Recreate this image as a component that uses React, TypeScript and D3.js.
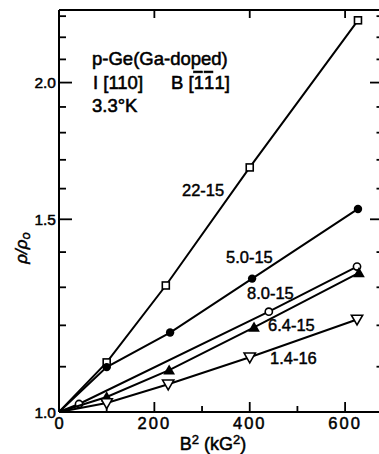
import React from "react";
import * as d3 from "d3";

// B^2 (kG^2) and rho/rho0
const b22x = [0, 100, 224, 400, 627];
const b22y = [1, 1.11, 1.305, 1.673, 2.28];
const b50x = [0, 100, 233, 405, 627];
const b50y = [1, 1.099, 1.182, 1.324, 1.533];
const b80x = [0, 42, 440, 625];
const b80y = [1, 1.017, 1.235, 1.358];
const b64x = [0, 100, 231, 409, 629];
const b64y = [1, 1.032, 1.092, 1.195, 1.34];
const b14x = [0, 100, 229, 400, 625];
const b14y = [1, 1.019, 1.06, 1.122, 1.215];

const xTickLabels = [0, 200, 400, 600];
const xMinorTicks = [100, 300, 500];
const yTicks = d3.range(10, 24).map((d) => d / 10);
const yLabelTicks = [1.0, 1.5, 2.0];

type Series = { name: string; xs: number[]; ys: number[]; marker: string; label: [number, number] };

const series: Series[] = [
  { name: "22-15", xs: b22x, ys: b22y, marker: "square", label: [182, 196] },
  { name: "5.0-15", xs: b50x, ys: b50y, marker: "dot", label: [226, 263] },
  { name: "8.0-15", xs: b80x, ys: b80y, marker: "circle", label: [247, 299] },
  { name: "6.4-15", xs: b64x, ys: b64y, marker: "tri", label: [268, 331] },
  { name: "1.4-16", xs: b14x, ys: b14y, marker: "dtri", label: [270, 364] },
];

const W = 379;
const H = 454;
const left = 59;
const right = 378;
const top = 10;
const bottom = 412;

const x = d3.scaleLinear().domain([0, 669]).range([left, right]);
const y = d3.scaleLog().domain([1, 2.33]).range([bottom, top]);

const font = "'Liberation Sans', Arial, sans-serif";

function Marker({ kind, cx, cy }: { kind: string; cx: number; cy: number }) {
  const sw = 1.6;
  if (kind === "square")
    return <rect x={cx - 3.5} y={cy - 3.5} width={7} height={7} fill="white" stroke="black" strokeWidth={sw} />;
  if (kind === "dot") return <circle cx={cx} cy={cy} r={4.2} fill="black" />;
  if (kind === "circle") return <circle cx={cx} cy={cy} r={3.6} fill="white" stroke="black" strokeWidth={sw} />;
  if (kind === "tri") {
    const s = d3.symbol(d3.symbolTriangle, 60)() as string;
    return <path d={s} transform={`translate(${cx},${cy + 1})`} fill="black" />;
  }
  const s = d3.symbol(d3.symbolTriangle, 55)() as string;
  return (
    <path d={s} transform={`translate(${cx},${cy - 1}) rotate(180)`} fill="white" stroke="black" strokeWidth={sw} />
  );
}

export default function App() {
  const line = d3
    .line<[number, number]>()
    .x((d) => x(d[0]))
    .y((d) => y(d[1]));

  return (
    <svg
      width={W}
      height={H}
      style={{ position: "absolute", left: 0, top: 0, background: "white" }}
      fontFamily={font}
    >
      <rect x={0} y={0} width={W} height={H} fill="white" />
      {/* frame */}
      <line x1={left} x2={left} y1={top} y2={bottom} stroke="black" strokeWidth={2} />
      <line x1={left} x2={W} y1={bottom} y2={bottom} stroke="black" strokeWidth={2} />
      <line x1={left} x2={W} y1={top} y2={top} stroke="black" strokeWidth={2} />

      {/* y ticks */}
      {yTicks.map((t) => {
        const major = yLabelTicks.some((v) => Math.abs(v - t) < 1e-6);
        return (
          <g key={t}>
            <line x1={left} x2={left + (major ? 13 : 7)} y1={y(t)} y2={y(t)} stroke="black" strokeWidth={1.8} />
            <line x1={right - (major ? 8 : 1.5)} x2={W} y1={y(t)} y2={y(t)} stroke="black" strokeWidth={1.8} />
          </g>
        );
      })}
      {yLabelTicks.map((t) => (
        <text key={t} x={56} y={y(t) + 5.5} textAnchor="end" fontSize={15.5} stroke="black" strokeWidth={0.5}>
          {t.toFixed(1)}
        </text>
      ))}

      {/* x ticks */}
      {xTickLabels.slice(1).map((t) => (
        <g key={t}>
          <line x1={x(t)} x2={x(t)} y1={bottom} y2={bottom - 10} stroke="black" strokeWidth={1.8} />
          <line x1={x(t)} x2={x(t)} y1={top} y2={top + 8} stroke="black" strokeWidth={1.8} />
        </g>
      ))}
      {xMinorTicks.map((t) => (
        <line key={t} x1={x(t)} x2={x(t)} y1={bottom} y2={bottom - 6} stroke="black" strokeWidth={1.8} />
      ))}
      {xTickLabels.map((t) => (
        <text
          key={t}
          x={x(t)}
          y={429}
          textAnchor="middle"
          fontSize={16.5}
          letterSpacing={t ? 2 : 0}
          stroke="black"
          strokeWidth={0.5}
        >
          {t}
        </text>
      ))}

      {/* axis titles */}
      <text x={213} y={450} textAnchor="middle" fontSize={18} stroke="black" strokeWidth={0.5}>
        B<tspan dy={-6} fontSize={13}>2</tspan>
        <tspan dy={6}> (kG</tspan>
        <tspan dy={-6} fontSize={13}>2</tspan>
        <tspan dy={6}>)</tspan>
      </text>
      <text
        transform="translate(27,248) rotate(-90)"
        textAnchor="middle"
        fontSize={17}
        fontStyle="italic"
        stroke="black"
        strokeWidth={0.5}
      >
        ρ/ρ<tspan dy={3} fontSize={13}>o</tspan>
      </text>

      {/* annotation */}
      <g fontSize={18.5} stroke="black" strokeWidth={0.55}>
        <text x={92} y={65}>p-Ge(Ga-doped)</text>
        <text x={93} y={89}>I [110]</text>
        <text x={171} y={89}>
          B [<tspan textDecoration="overline">1</tspan>
          <tspan dx={1.5} textDecoration="overline">1</tspan>
          <tspan dx={1.5}>1]</tspan>
        </text>
        <text x={92} y={112}>3.3°K</text>
      </g>

      {/* series */}
      {series.map((s) => {
        const pts = s.xs.map((v, i) => [v, s.ys[i]] as [number, number]);
        return (
          <g key={s.name}>
            <path d={line(pts) as string} fill="none" stroke="black" strokeWidth={2} />
            {pts.slice(1).map((p, i) => (
              <Marker key={i} kind={s.marker} cx={x(p[0])} cy={y(p[1])} />
            ))}
            <text x={s.label[0]} y={s.label[1]} fontSize={16.5} stroke="black" strokeWidth={0.45}>
              {s.name}
            </text>
          </g>
        );
      })}
    </svg>
  );
}
